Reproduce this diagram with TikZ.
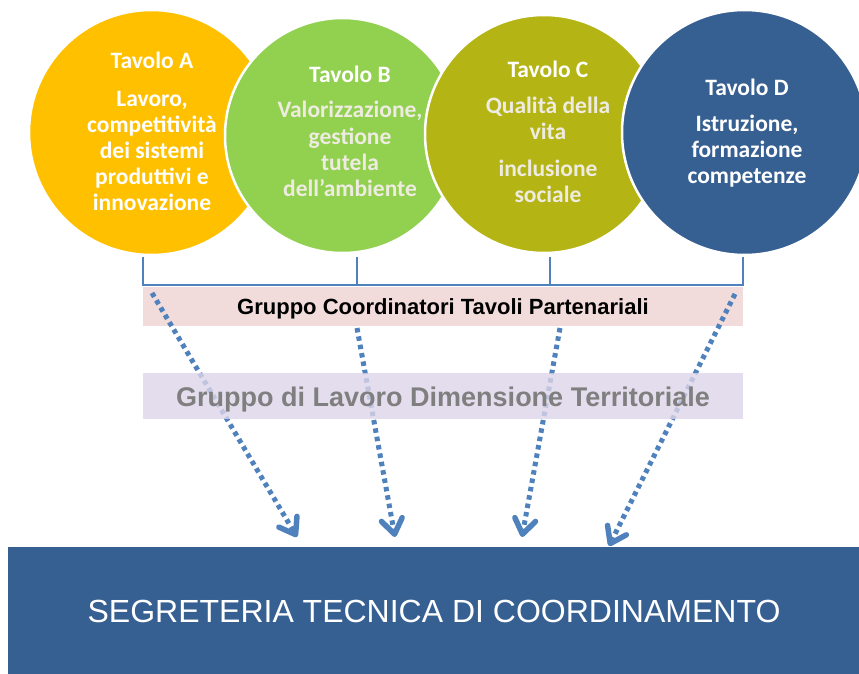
\documentclass[tikz,border=0pt]{standalone}
\usepackage{fontspec}
\setmainfont{Liberation Sans}
\newfontfamily\calfont{Carlito}
\usetikzlibrary{arrows.meta}

\definecolor{tavAcol}{HTML}{FFC000}
\definecolor{tavBcol}{HTML}{92D050}
\definecolor{tavCcol}{HTML}{B4B414}
\definecolor{tavDcol}{HTML}{376092}
\definecolor{linkblue}{HTML}{4F81BD}
\definecolor{pinkbox}{HTML}{F2DCDB}
\definecolor{lilacbox}{HTML}{DDD5E8}
\definecolor{graytext}{HTML}{7F7F7F}
\definecolor{lighttext}{HTML}{EEECE1}

\begin{document}
\begin{tikzpicture}[x=1pt,y=-1pt,
  tavolo/.style={circle, draw=white, line width=2.5pt, inner sep=0pt},
  tlabel/.style={align=center, text=white, anchor=base,
    font=\calfont\bfseries\fontsize{23.5}{26}\selectfont},
  bracket/.style={draw=linkblue, line width=2.5pt},
  flow/.style={draw=linkblue, line width=5pt, dash pattern=on 4.5pt off 4pt,
    -{Straight Barb[length=15pt,width=21pt,line width=5.5pt,round]}},
  band/.style={minimum width=600pt, inner sep=0pt, text depth=0pt}]

\useasboundingbox (0,0) rectangle (859,674);

% Tavoli
\node[tavolo, fill=tavAcol, minimum size=245pt] (tavA) at (151.5,132.5) {};
\node[tavolo, fill=tavBcol, minimum size=235pt] (tavB) at (342.5,135.5) {};
\node[tavolo, fill=tavCcol, minimum size=238pt] (tavC) at (544,134) {};
\node[tavolo, fill=tavDcol, minimum size=245pt] (tavD) at (744.5,132.5) {};

% base anchor sits on the last line
\node[tlabel] (labA) at (152,210) {Tavolo A\\[12pt]Lavoro,\\competitività\\dei sistemi\\produttivi e\\innovazione};
\node[tlabel] (labB) at (350,196) {Tavolo B\\[10pt]\color{lighttext}Valorizzazione,\\\color{lighttext}gestione\\\color{lighttext}tutela\\\color{lighttext}dell’ambiente};
\node[tlabel] (labC) at (548,202) {Tavolo C\\[10pt]\color{lighttext}Qualità della\\\color{lighttext}vita\\[11pt]\color{lighttext}inclusione\\\color{lighttext}sociale};
\node[tlabel] (labD) at (747,183) {Tavolo D\\[10pt]Istruzione,\\formazione\\competenze};

% Bracket
\coordinate (dropA) at (143,257);
\coordinate (dropB) at (357,257);
\coordinate (dropC) at (550,257);
\coordinate (dropD) at (743,257);
\draw[bracket] (dropA) -- ++(0,28) -| (dropD);
\draw[bracket] (dropB) -- ++(0,28);
\draw[bracket] (dropC) -- ++(0,28);

% Coordinatori
\node[band, fill=pinkbox, minimum height=39pt, text height=15pt,
  font=\bfseries\fontsize{22}{26}\selectfont] (coord) at (443,306.5)
  {Gruppo Coordinatori Tavoli Partenariali};

% Segreteria
\node[fill=tavDcol, minimum width=852pt, minimum height=127pt, inner sep=0pt,
  text=white, text height=23pt, text depth=0pt,
  font=\fontsize{32}{38}\selectfont] (segr) at (434,610.5)
  {SEGRETERIA TECNICA DI COORDINAMENTO};

% Flows
\coordinate (srcA) at (152,293);
\coordinate (srcB) at (357,328);
\coordinate (srcC) at (560,328);
\coordinate (srcD) at (735,294);
\coordinate (dstA) at (297,537);
\coordinate (dstB) at (395,537);
\coordinate (dstC) at (522,537);
\coordinate (dstD) at (609,546);
\draw[flow] (srcA) -- (dstA);
\draw[flow] (srcB) -- (dstB);
\draw[flow] (srcC) -- (dstC);
\draw[flow] (srcD) -- (dstD);

% Dimensione territoriale
\node[band, fill=lilacbox, fill opacity=0.8, text opacity=1, minimum height=46pt,
  text height=20pt, text=graytext,
  font=\bfseries\fontsize{27}{32}\selectfont] (terr) at (443,396)
  {Gruppo di Lavoro Dimensione Territoriale};

\end{tikzpicture}
\end{document}
